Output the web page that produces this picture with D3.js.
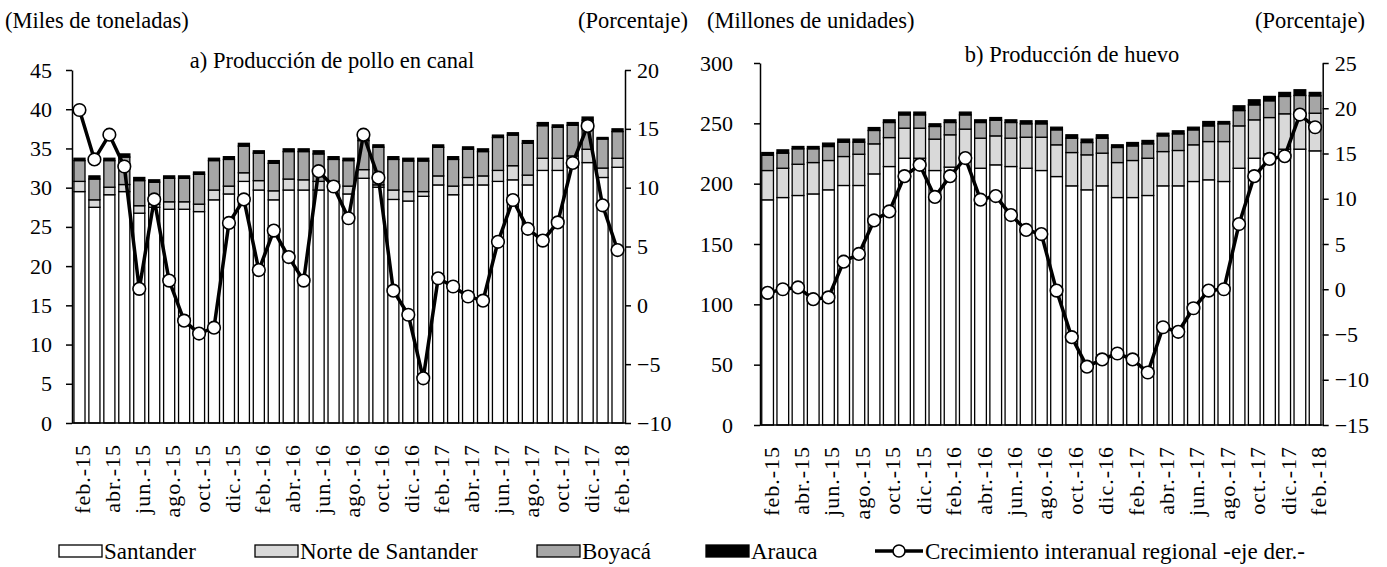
<!DOCTYPE html>
<html>
<head>
<meta charset="utf-8">
<script src="https://cdn.jsdelivr.net/npm/d3@7"></script>
<style>
  body { margin: 0; background: #fff; }
  svg text { font-family: "Liberation Serif", "Times New Roman", serif; fill: #000; }
</style>
</head>
<body>
<svg id="chart" width="1387" height="567"></svg>
<script>
// ---- data ----
const MONTHS = [
    "feb.-15", "mar.-15", "abr.-15", "may.-15", "jun.-15", "jul.-15", "ago.-15", "sep.-15",
    "oct.-15", "nov.-15", "dic.-15", "ene.-16", "feb.-16", "mar.-16", "abr.-16", "may.-16",
    "jun.-16", "jul.-16", "ago.-16", "sep.-16", "oct.-16", "nov.-16", "dic.-16", "ene.-17",
    "feb.-17", "mar.-17", "abr.-17", "may.-17", "jun.-17", "jul.-17", "ago.-17", "sep.-17",
    "oct.-17", "nov.-17", "dic.-17", "ene.-18", "feb.-18"
];

// a) Producción de pollo en canal (miles de toneladas)
const polloSantander = [29.5, 27.5, 29.1, 29.5, 26.75, 27.5, 27.25, 27.25, 26.95, 28.45, 29.2, 30.8, 29.7, 28.45, 29.7, 29.7, 29.7, 29.7, 29.2, 31.2, 30.06, 28.5, 28.3, 28.9, 30.35, 29.1, 30.35, 30.35, 30.8, 31.0, 30.35, 32.2, 32.2, 32.6, 33.2, 31.3, 32.6];
const polloNorte = [1.3, 0.95, 0.96, 0.9, 0.95, 0.4, 0.95, 0.95, 0.95, 1.25, 1.0, 1.1, 1.2, 1.15, 1.4, 1.3, 1.1, 1.1, 1.0, 1.1, 0.3, 1.2, 1.2, 0.6, 1.15, 1.1, 0.95, 1.15, 1.4, 1.8, 1.25, 1.55, 1.55, 1.45, 1.7, 1.2, 1.15];
const polloBoyaca = [2.65, 2.65, 3.39, 3.5, 3.2, 2.8, 3.0, 3.0, 3.8, 3.75, 3.4, 3.4, 3.5, 3.5, 3.5, 3.6, 3.5, 2.8, 3.25, 3.7, 4.8, 3.9, 3.9, 3.9, 3.65, 3.4, 3.6, 3.1, 4.2, 3.9, 4.05, 4.15, 3.95, 3.9, 3.7, 3.7, 3.4];
const polloArauca = [0.3, 0.4, 0.3, 0.4, 0.4, 0.3, 0.3, 0.3, 0.3, 0.3, 0.35, 0.35, 0.3, 0.35, 0.35, 0.35, 0.4, 0.35, 0.3, 0.3, 0.3, 0.35, 0.35, 0.35, 0.3, 0.35, 0.3, 0.35, 0.3, 0.3, 0.35, 0.4, 0.3, 0.35, 0.4, 0.2, 0.35];
const polloCrecimiento = [16.6, 12.4, 14.5, 11.8, 1.4, 9.0, 2.1, -1.3, -2.4, -1.9, 7.0, 9.0, 3.0, 6.35, 4.1, 2.1, 11.4, 10.1, 7.4, 14.5, 10.85, 1.25, -0.8, -6.2, 2.3, 1.6, 0.75, 0.4, 5.4, 8.95, 6.5, 5.5, 7.05, 12.1, 15.25, 8.5, 4.7];

// b) Producción de huevo (millones de unidades)
const huevoSantander = [186.6, 188.5, 190.2, 191.5, 194.9, 198.5, 198.5, 208.1, 214.2, 221.1, 221.1, 210.9, 213.7, 221.1, 212.8, 215.6, 214.2, 212.8, 210.9, 205.9, 198.2, 194.9, 198.2, 188.5, 188.5, 190.2, 198.2, 198.2, 201.8, 203.2, 201.8, 212.8, 221.1, 224.7, 228.6, 228.6, 227.2];
const huevoNorte = [24.3, 24.3, 25.9, 26.0, 24.3, 24.0, 25.9, 24.9, 24.0, 24.9, 24.9, 26.0, 26.8, 24.1, 24.9, 24.0, 23.5, 25.7, 27.6, 26.3, 27.6, 29.0, 27.1, 29.0, 30.7, 30.9, 28.4, 29.3, 30.4, 31.7, 33.1, 35.1, 31.8, 30.1, 29.3, 29.3, 31.2];
const huevoBoyaca = [12.7, 12.5, 12.8, 11.4, 11.6, 11.9, 10.0, 11.1, 12.5, 11.0, 11.0, 10.5, 10.2, 11.8, 13.0, 13.0, 13.0, 11.1, 11.1, 12.4, 11.9, 10.2, 12.4, 12.5, 12.1, 11.9, 13.0, 13.8, 12.4, 13.0, 14.7, 12.7, 12.4, 13.9, 14.4, 15.2, 14.4];
const huevoArauca = [2.2, 2.7, 1.9, 1.9, 2.8, 2.5, 2.5, 2.4, 2.2, 2.3, 2.3, 2.2, 2.2, 2.3, 2.2, 2.2, 2.2, 2.5, 2.5, 2.2, 2.8, 2.8, 2.8, 2.2, 2.8, 2.8, 2.2, 2.5, 2.2, 3.6, 1.9, 3.9, 4.2, 3.6, 3.3, 4.7, 2.8];
const huevoCrecimiento = [-0.4, 0.0, 0.2, -1.1, -0.9, 3.05, 3.9, 7.6, 8.6, 12.5, 13.75, 10.2, 12.5, 14.5, 9.9, 10.3, 8.2, 6.55, 6.1, -0.15, -5.3, -8.55, -7.75, -7.1, -7.75, -9.2, -4.2, -4.7, -2.1, -0.15, 0.0, 7.2, 12.5, 14.4, 14.7, 19.3, 17.9];

const TICKS_A_LEFT = [0, 5, 10, 15, 20, 25, 30, 35, 40, 45];
const TICKS_A_RIGHT = [-10, -5, 0, 5, 10, 15, 20];
const TICKS_B_LEFT = [0, 50, 100, 150, 200, 250, 300];
const TICKS_B_RIGHT = [-15, -10, -5, 0, 5, 10, 15, 20, 25];

const SERIES = ["Santander", "Norte de Santander", "Boyacá", "Arauca"];
const LINE_LABEL = "Crecimiento interanual regional -eje der.-";
const COLORS = {
    "Santander": "#ffffff",
    "Norte de Santander": "#d9d9d9",
    "Boyacá": "#a6a6a6",
    "Arauca": "#000000"
};

const FONT = '"Liberation Serif", "Times New Roman", serif';

const svg = d3.select("#chart");

/**
 * Draw one panel: stacked bars on the left axis, growth line on the right axis
 * @param {object} cfg - panel layout and data
 */
function drawPanel(cfg) {
    const rows = MONTHS.map((m, i) => ({
        month: m,
        "Santander": cfg.santander[i],
        "Norte de Santander": cfg.norte[i],
        "Boyacá": cfg.boyaca[i],
        "Arauca": cfg.arauca[i],
        growth: cfg.growth[i]
    }));

    const x = d3.scaleBand()
        .domain(MONTHS)
        .range([cfg.left, cfg.right])
        .paddingInner(cfg.padding)
        .paddingOuter(cfg.padding / 2);

    const yL = d3.scaleLinear().domain(d3.extent(cfg.leftTicks)).range([cfg.bottom, cfg.top]);
    const yR = d3.scaleLinear().domain(d3.extent(cfg.rightTicks)).range([cfg.bottom, cfg.top]);

    const g = svg.append("g").attr("class", "panel");

    // stacked bars
    const stacked = d3.stack().keys(SERIES)(rows);
    g.selectAll("g.layer")
        .data(stacked)
        .join("g")
        .attr("class", "layer")
        .attr("fill", d => COLORS[d.key])
        .selectAll("rect")
        .data(d => d)
        .join("rect")
        .attr("x", d => x(d.data.month))
        .attr("width", x.bandwidth())
        .attr("y", d => yL(d[1]))
        .attr("height", d => yL(d[0]) - yL(d[1]))
        .attr("stroke", "#000")
        .attr("stroke-width", 1.3);

    // growth line
    const cx = d => x(d.month) + x.bandwidth() / 2;
    const line = d3.line().x(cx).y(d => yR(d.growth));

    g.append("path")
        .datum(rows)
        .attr("fill", "none")
        .attr("stroke", "#000")
        .attr("stroke-width", 3.5)
        .attr("stroke-linejoin", "round")
        .attr("d", line);

    g.selectAll("circle.mk")
        .data(rows)
        .join("circle")
        .attr("class", "mk")
        .attr("cx", cx)
        .attr("cy", d => yR(d.growth))
        .attr("r", 6.3)
        .attr("fill", "#fff")
        .attr("stroke", "#000")
        .attr("stroke-width", 1.6);

    // axes
    const axL = g.append("g")
        .attr("transform", `translate(${cfg.left},0)`)
        .call(d3.axisLeft(yL).tickValues(cfg.leftTicks).tickSize(6).tickSizeOuter(0).tickPadding(cfg.leftPad));
    const axR = g.append("g")
        .attr("transform", `translate(${cfg.right},0)`)
        .call(d3.axisRight(yR).tickValues(cfg.rightTicks).tickSize(6).tickSizeOuter(0).tickPadding(6));

    [axL, axR].forEach(ax => {
        ax.attr("font-family", FONT).attr("font-size", 22);
        ax.selectAll("path, line").attr("stroke", "#000").attr("stroke-width", 1.5);
        ax.selectAll("text").attr("fill", "#000");
    });

    g.append("line")
        .attr("x1", cfg.left).attr("x2", cfg.right)
        .attr("y1", cfg.bottom).attr("y2", cfg.bottom)
        .attr("stroke", "#000").attr("stroke-width", 1.5);

    // month labels, every second month
    g.selectAll("text.xlab")
        .data(MONTHS.filter((m, i) => i % 2 === 0))
        .join("text")
        .attr("class", "xlab")
        .attr("transform", m => `translate(${x(m) + x.bandwidth() / 2 + 11},${cfg.bottom + 21}) rotate(-90)`)
        .attr("text-anchor", "end")
        .attr("font-size", 22)
        .attr("letter-spacing", 1)
        .text(m => m);

    // titles
    g.append("text")
        .attr("x", cfg.titleX).attr("y", cfg.titleY)
        .attr("text-anchor", "middle")
        .attr("font-size", 22.5)
        .text(cfg.title);

    g.append("text")
        .attr("x", cfg.unitLeftX).attr("y", 28)
        .attr("font-size", 22.5)
        .text(cfg.unitLeft);

    g.append("text")
        .attr("x", cfg.unitRightX).attr("y", 28)
        .attr("text-anchor", "end")
        .attr("font-size", 22.5)
        .text("(Porcentaje)");
}

drawPanel({
    left: 72, right: 625, top: 70, bottom: 423, padding: 0.26, leftPad: 14,
    leftTicks: TICKS_A_LEFT, rightTicks: TICKS_A_RIGHT,
    santander: polloSantander, norte: polloNorte, boyaca: polloBoyaca, arauca: polloArauca,
    growth: polloCrecimiento,
    title: "a) Producción de pollo en canal", titleX: 332, titleY: 68,
    unitLeft: "(Miles de toneladas)", unitLeftX: 5, unitRightX: 688
});

drawPanel({
    left: 760, right: 1322.7, top: 63, bottom: 425, padding: 0.23, leftPad: 21,
    leftTicks: TICKS_B_LEFT, rightTicks: TICKS_B_RIGHT,
    santander: huevoSantander, norte: huevoNorte, boyaca: huevoBoyaca, arauca: huevoArauca,
    growth: huevoCrecimiento,
    title: "b) Producción de huevo", titleX: 1072, titleY: 62,
    unitLeft: "(Millones de unidades)", unitLeftX: 707, unitRightX: 1365
});

// ---- legend ----
const LEGEND_POS = [59, 255, 537, 706];
const legend = svg.append("g").attr("class", "legend");

SERIES.forEach((name, i) => {
    const lx = LEGEND_POS[i];
    legend.append("rect")
        .attr("x", lx).attr("y", 545)
        .attr("width", 43).attr("height", 12)
        .attr("fill", COLORS[name])
        .attr("stroke", "#000").attr("stroke-width", 1.3);
    legend.append("text")
        .attr("x", lx + 45).attr("y", 559)
        .attr("font-size", 23)
        .text(name);
});

legend.append("line")
    .attr("x1", 875).attr("x2", 923)
    .attr("y1", 551).attr("y2", 551)
    .attr("stroke", "#000").attr("stroke-width", 3.5);
legend.append("circle")
    .attr("cx", 899).attr("cy", 551).attr("r", 6)
    .attr("fill", "#fff").attr("stroke", "#000").attr("stroke-width", 1.6);
legend.append("text")
    .attr("x", 925).attr("y", 559)
    .attr("font-size", 23)
    .text(LINE_LABEL);
</script>
</body>
</html>
